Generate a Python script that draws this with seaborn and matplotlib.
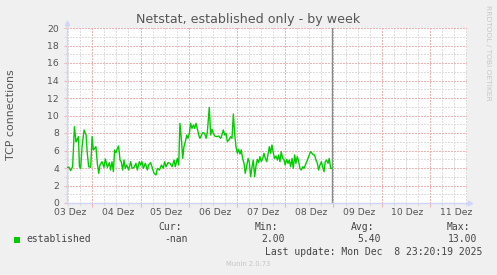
import matplotlib
matplotlib.use("Agg")
import matplotlib.pyplot as plt
import matplotlib.transforms as mtransforms
from matplotlib.patches import Rectangle
from matplotlib.ticker import MultipleLocator, NullFormatter
import seaborn as sns
import pandas as pd

# ---------------- data ----------------
TITLE = "Netstat, established only - by week"
YLABEL = "TCP connections"
SERIES = "established"
DAY_LABELS = ["03 Dez", "04 Dez", "05 Dez", "06 Dez", "07 Dez",
              "08 Dez", "09 Dez", "10 Dez", "11 Dez"]
# hours since 03 Dez 00:00
HOURS = [11.6, 12.4, 13.2, 14.2, 15.1, 15.9, 16.4, 17.1, 17.6, 18.2,
         18.9, 19.9, 20.9, 21.5, 22.2, 23.2, 23.9, 24.5, 25.2, 25.8,
         26.5, 27.2, 27.8, 28.8, 29.8, 30.5, 31.5, 32.5, 33.1, 33.8,
         34.5, 35.1, 35.8, 36.5, 37.1, 37.8, 38.4, 39.1, 39.8, 40.4,
         41.1, 42.1, 43.1, 43.8, 44.8, 45.7, 46.4, 47.4, 48.1, 48.7,
         49.4, 50.4, 51.4, 52.0, 53.0, 53.7, 54.7, 55.7, 56.4, 57.4,
         58.4, 59.3, 60.0, 60.7, 61.7, 62.7, 63.7, 64.7, 65.3, 66.3,
         67.0, 67.6, 68.3, 69.0, 69.6, 70.3, 71.0, 71.6, 72.3, 72.9,
         73.6, 74.3, 74.9, 75.6, 76.3, 77.3,
         77.6, 78.9, 79.9, 80.6, 81.2, 82.2, 82.9, 83.6, 84.2, 84.9,
         85.9, 86.9, 87.9, 88.5, 89.2, 89.9, 90.5, 91.2, 92.2, 92.8,
         93.5, 94.2, 94.8, 95.5, 96.2, 96.8, 97.5, 98.1, 98.8, 99.5,
         100.1, 100.8, 101.5, 102.1, 102.8, 103.5, 104.1, 104.8, 105.4, 106.1,
         106.8, 107.4, 108.1, 108.8, 109.4, 110.1, 110.8, 111.4, 112.1, 112.7,
         113.4, 114.1, 114.7, 115.4, 116.1, 116.7, 117.4, 118.0, 118.7, 119.4,
         120.0, 120.7, 121.4, 122.0, 122.7, 123.4, 124.0, 124.7, 125.3, 126.0,
         126.7, 127.3, 128.0, 128.7, 129.3, 130.0, 130.7, 131.3, 132.0, 132.6,
         133.3, 134.0, 134.6, 135.3, 136.0, 136.6, 137.3, 138.0, 138.6, 139.3,
         139.9, 140.6, 141.3, 141.9, 142.6, 143.3]
VALUES = [4.08, 4.08, 3.70, 4.15, 8.72, 7.01, 7.20, 7.58, 4.15, 3.96,
          6.44, 8.34, 7.77, 5.68, 4.15, 4.08, 7.58, 6.06, 6.25, 6.44,
          4.53, 3.39, 4.34, 4.72, 4.08, 5.03, 4.08, 4.61, 3.77, 4.72,
          3.58, 6.06, 5.75, 6.25, 6.51, 4.91, 4.72, 3.77, 4.91, 3.96,
          4.34, 3.77, 4.72, 3.96, 4.08, 4.53, 3.77, 4.72, 4.34, 4.72,
          3.96, 4.53, 3.77, 4.34, 4.61, 4.15, 3.39, 3.20, 3.96, 3.77,
          4.34, 3.96, 4.72, 4.15, 4.61, 4.53, 4.15, 4.91, 4.15, 5.10,
          4.34, 9.10, 7.39, 5.10, 6.44, 7.01, 7.77, 7.39, 7.96, 9.10,
          8.53, 8.91, 8.53, 9.10, 8.42, 7.50,
          7.39, 8.04, 7.96, 7.39, 7.96, 10.93, 7.77, 8.42, 7.96, 7.66,
          7.58, 7.66, 7.39, 7.77, 8.34, 7.77, 7.96, 7.01, 7.28, 7.58,
          7.39, 10.17, 7.96, 6.44, 5.68, 6.13, 5.60, 6.06, 5.10, 4.53,
          3.39, 4.15, 5.10, 4.72, 3.01, 4.15, 4.91, 3.01, 4.15, 4.99,
          4.61, 5.30, 4.72, 5.10, 5.68, 5.10, 4.72, 5.49, 6.44, 5.68,
          6.63, 5.68, 5.10, 5.37, 4.91, 5.49, 4.72, 5.87, 5.10, 4.91,
          4.34, 4.99, 4.53, 4.91, 4.15, 5.10, 3.96, 5.49, 4.53, 5.30,
          4.72, 3.96, 3.77, 4.15, 3.96, 4.34, 4.72, 5.10, 5.49, 5.87,
          5.68, 5.49, 5.49, 4.91, 4.53, 3.77, 4.34, 4.72, 4.15, 3.58,
          4.72, 4.91, 4.53, 5.10, 3.96, 3.96]
NOW_HOUR = 143.33
X_RANGE = (11.26, 210.3)
Y_RANGE = (0, 20)
STAT_NAMES = ["Cur:", "Min:", "Avg:", "Max:"]
STAT_VALUES = ["-nan", "2.00", "5.40", "13.00"]
LAST_UPDATE = "Last update: Mon Dec  8 23:20:19 2025"
FOOTER = "Munin 2.0.73"
WATERMARK = "RRDTOOL / TOBI OETIKER"

# ---------------- style ----------------
sns.set_theme(style="white")
plt.rcParams['font.family'] = ['DejaVu Sans']

W, H = 497, 275
BG = '#F0F0F0'
TXT = '#555555'
AXC = '#CFD6F8'
MAJ = '#EDB4B4'
MIN = '#DDDDDD'
GREEN = '#00CC00'


def fx(x):
    return x / W


def fy(y):
    return 1 - y / H


fig = plt.figure(figsize=(W / 100, H / 100), dpi=100, facecolor=BG)
ax = fig.add_axes([fx(66.7), fy(203), 400 / W, 175 / H])
ax.set_facecolor('white')

df = pd.DataFrame({'hour': HOURS, 'conn': VALUES})
sns.lineplot(data=df, x='hour', y='conn', ax=ax, color=GREEN, lw=1.0,
             zorder=4)
ax.axvline(NOW_HOUR, color='#888888', lw=1.0, zorder=3)

ax.set_xlim(*X_RANGE)
ax.set_ylim(*Y_RANGE)
ax.set_xlabel('')
ax.set_ylabel('')

ax.xaxis.set_major_locator(MultipleLocator(24))
ax.xaxis.set_minor_locator(MultipleLocator(6))
ax.xaxis.set_major_formatter(NullFormatter())
ax.yaxis.set_major_locator(MultipleLocator(2))
ax.yaxis.set_minor_locator(MultipleLocator(1))

dot = (0, (1, 1))
ax.grid(which='minor', color=MIN, ls=dot, lw=1.0, zorder=1,
        antialiased=False, snap=True)
ax.grid(which='major', color=MAJ, ls=dot, lw=1.0, zorder=2,
        antialiased=False, snap=True)
ax.set_axisbelow(True)

ax.tick_params(axis='x', which='major', direction='out', length=3,
               width=0.8, color=MAJ, bottom=True)
ax.tick_params(axis='x', which='minor', direction='out', length=2,
               width=0.8, color=MIN, bottom=True)
ax.tick_params(axis='y', which='major', direction='out', length=2,
               width=0.8, color=MAJ, left=True, labelsize=6.7,
               labelcolor=TXT, pad=3.4)
ax.tick_params(axis='y', which='minor', direction='out', length=2,
               width=0.8, color=MIN, left=True)

for s in ['top', 'right']:
    ax.spines[s].set_visible(False)
for s in ['left', 'bottom']:
    ax.spines[s].set_color(AXC)
    ax.spines[s].set_linewidth(1.0)
    ax.spines[s].set_zorder(3.5)

# axis arrows
ax.plot([0, 0], [1, 1 + 5 / 175], color=AXC, lw=1.0,
        transform=ax.transAxes, clip_on=False)
ax.plot([0], [1 + 5 / 175], marker='^', ms=3.2, color=AXC, mec=AXC,
        transform=ax.transAxes, clip_on=False)
ax.plot([1, 1 + 3 / 400], [0, 0], color=AXC, lw=1.0,
        transform=ax.transAxes, clip_on=False)
ax.plot([1 + 3 / 400], [0], marker='>', ms=3.2, color=AXC, mec=AXC,
        transform=ax.transAxes, clip_on=False)

# day labels (centred on the afternoon of each day, as rrdtool does)
btr = mtransforms.blended_transform_factory(ax.transData, fig.transFigure)
for i, lab in enumerate(DAY_LABELS):
    ax.text(12.9 + 24 * i, fy(212.7), lab, transform=btr, ha='center',
            va='center', fontsize=6.7, color=TXT, clip_on=False)

# titles
fig.text(fx(248.5), fy(19), TITLE, ha='center', va='center', fontsize=9.1,
         color=TXT)
fig.text(fx(10.7), fy(114.7), YLABEL, ha='center', va='center',
         rotation=90, fontsize=7.9, color=TXT)
fig.text(fx(488), fy(5), WATERMARK, ha='center', va='top', rotation=270,
         fontsize=5.4, color='#C8C8C8')

# legend
mono = 'DejaVu Sans Mono'
LC = '#444444'
fig.add_artist(Rectangle((fx(14), fy(242.7)), 6 / W, 6 / H,
                         transform=fig.transFigure, color=GREEN, lw=0))
fig.text(fx(26), fy(239.5), SERIES, ha='left', va='center', family=mono,
         fontsize=7.05, color=LC)
name_right = [182, 278, 374, 470]
val_right = [188, 285, 381, 477]
for n, v, xn, xv in zip(STAT_NAMES, STAT_VALUES, name_right, val_right):
    fig.text(fx(xn), fy(227.3), n, ha='right', va='center', family=mono,
             fontsize=7.05, color=LC)
    fig.text(fx(xv), fy(239.5), v, ha='right', va='center', family=mono,
             fontsize=7.05, color=LC)
fig.text(fx(482), fy(251.8), LAST_UPDATE, ha='right', va='center',
         family=mono, fontsize=7.05, color=LC)
fig.text(fx(248), fy(264), FOOTER, ha='center', va='center', fontsize=4.9,
         color='#C4C4C4')

fig.savefig('out.png', dpi=100, facecolor=BG)
